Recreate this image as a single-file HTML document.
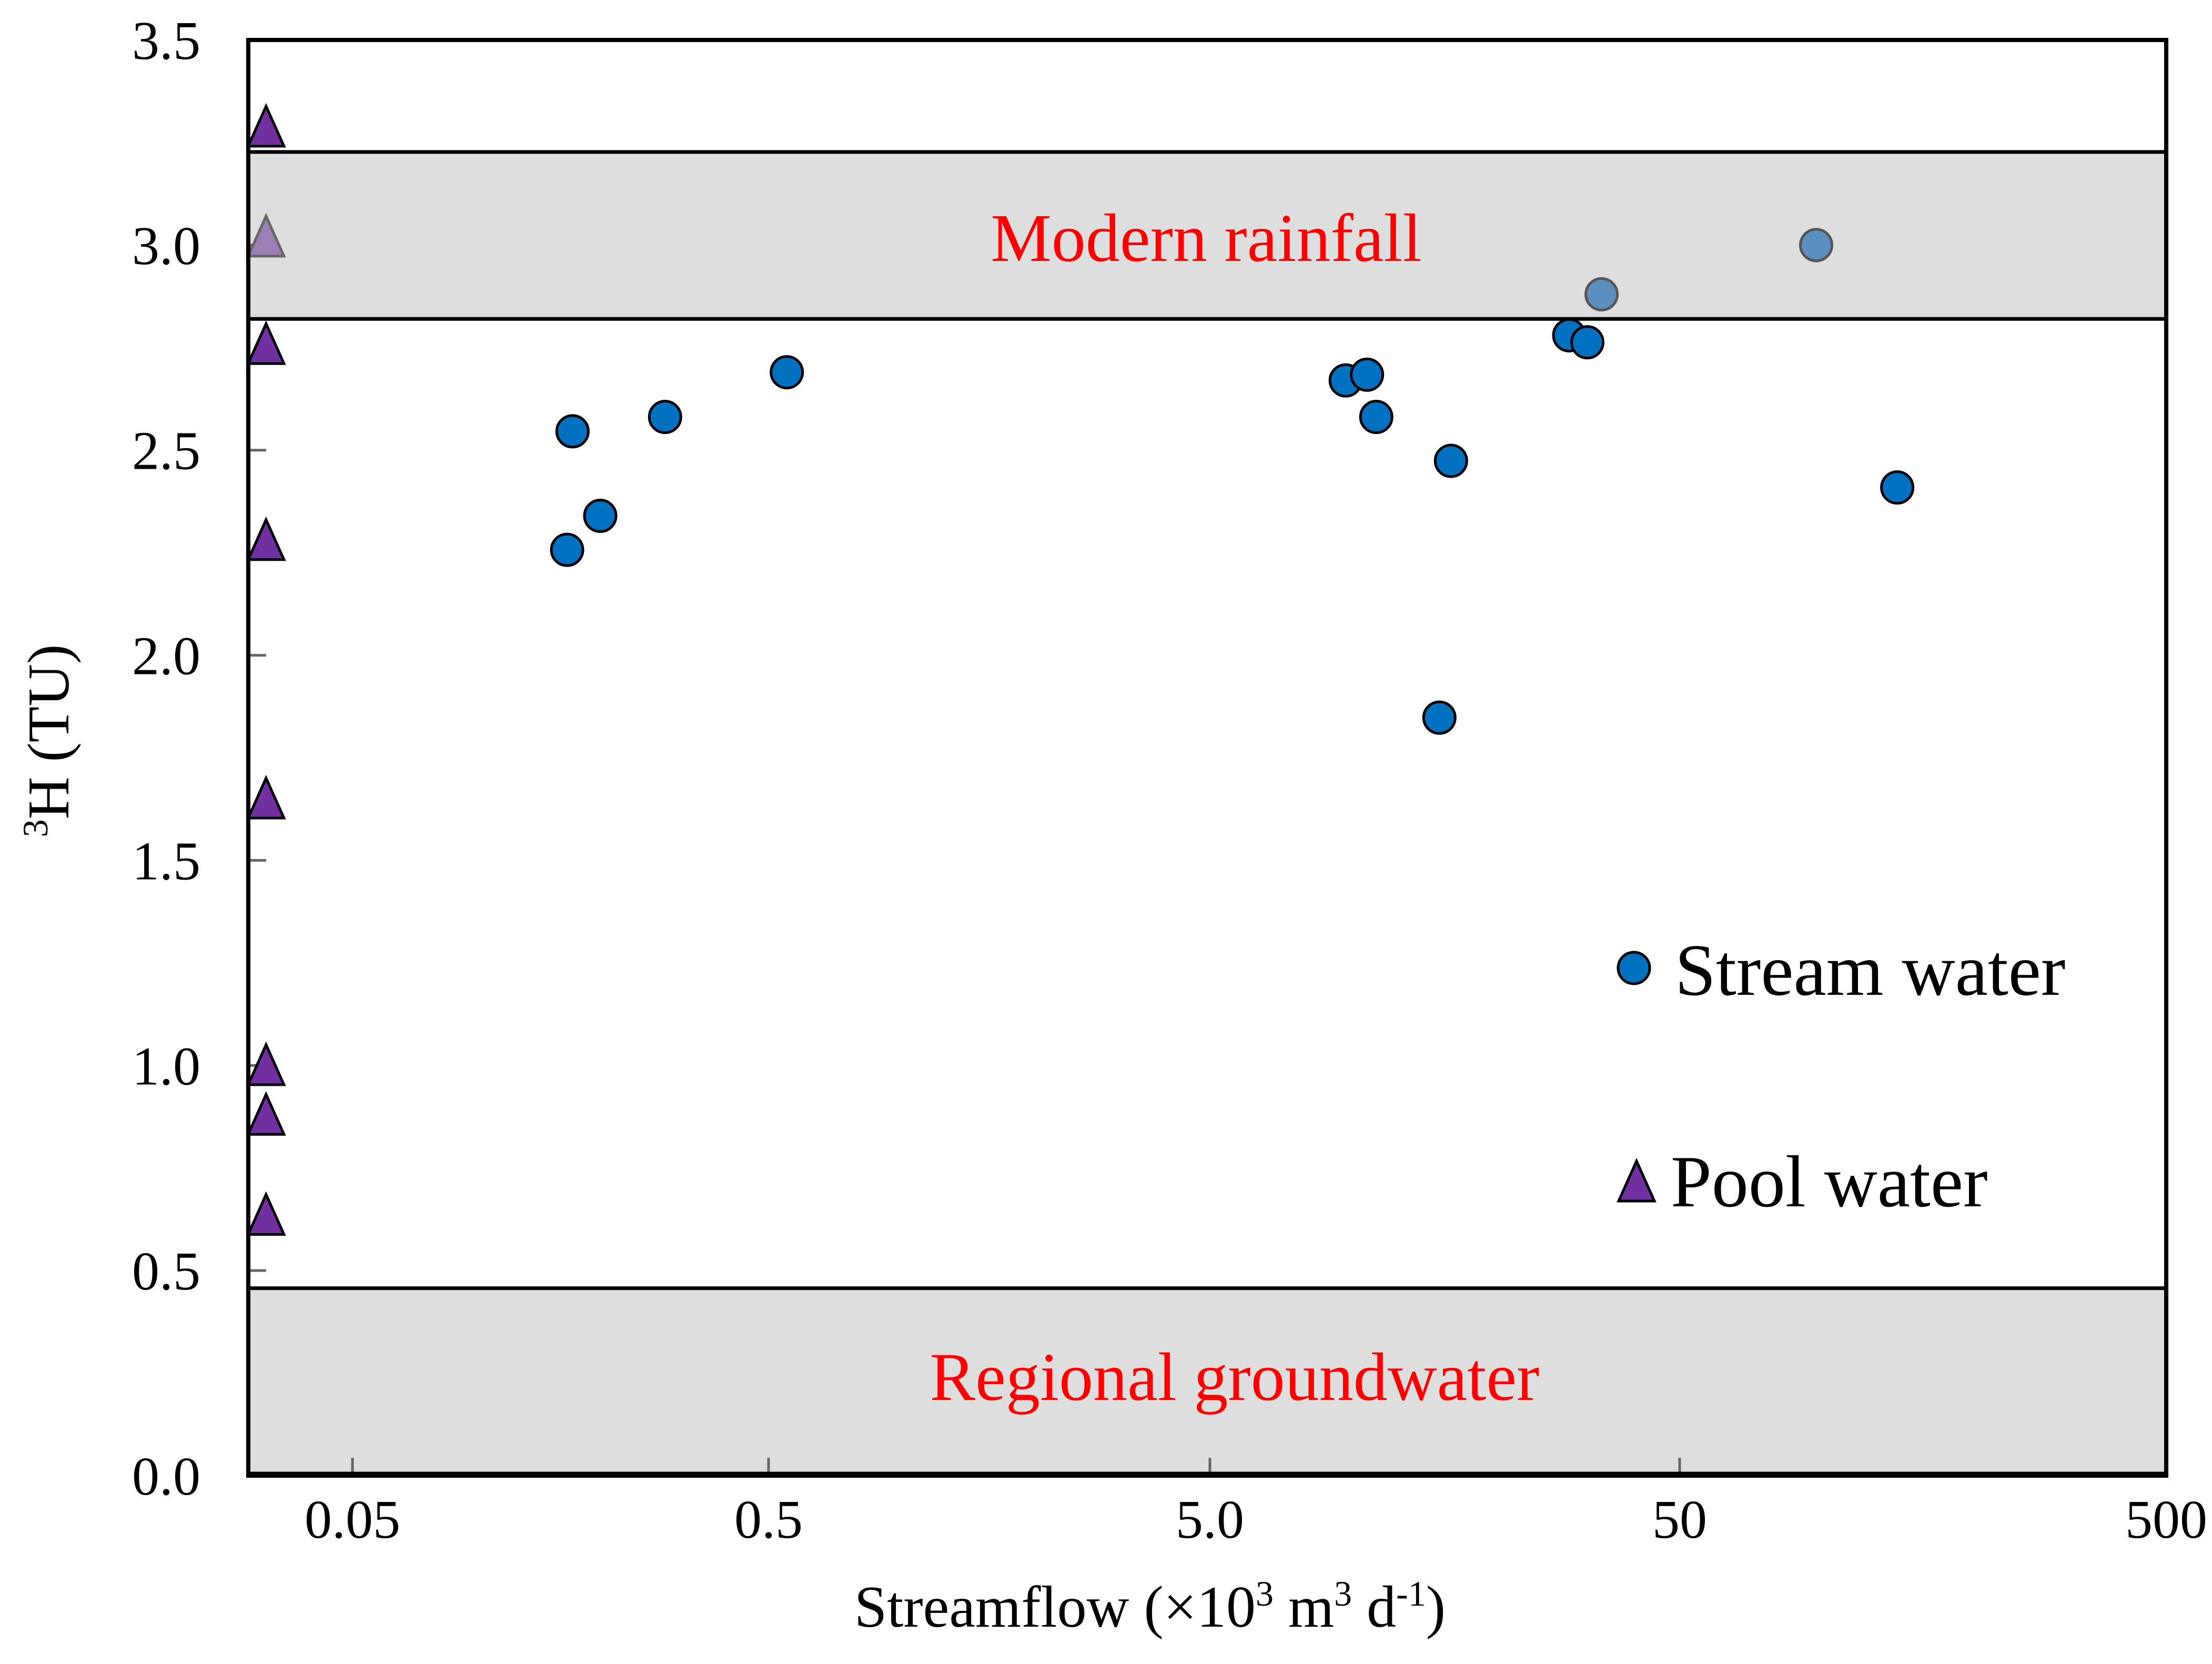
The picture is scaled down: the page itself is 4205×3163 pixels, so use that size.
<!DOCTYPE html>
<html><head><meta charset="utf-8"><style>html,body{margin:0;padding:0;background:#fff}svg{display:block}svg text{font-family:"Liberation Serif",serif}</style></head>
<body>
<svg id="chart" xmlns="http://www.w3.org/2000/svg" width="4205" height="3163" viewBox="0 0 4205 3163">
<rect x="0" y="0" width="4205" height="3163" fill="#fff"/>
<rect id="band1" fill="#dedede" stroke="#000" stroke-width="7"/>
<rect id="band2" fill="#dedede" stroke="#000" stroke-width="7"/>
<text x="2293" y="496" font-size="130" fill="#ff0000" text-anchor="middle">Modern rainfall</text>
<text x="2347" y="2661" font-size="130" fill="#ff0000" text-anchor="middle">Regional groundwater</text>
<g id="ticks"></g>
<g id="marks"></g>
<rect x="472" y="76" width="3646" height="2729" fill="none" stroke="#000" stroke-width="8"/>
<line x1="472" y1="2803" x2="4118" y2="2803" stroke="#000" stroke-width="11"/>
<g id="labels" font-size="104"></g>
<text x="2186" y="3092" font-size="112" text-anchor="middle">Streamflow (×10<tspan font-size="68" dy="-40">3</tspan><tspan dy="40"> m</tspan><tspan font-size="68" dy="-40">3</tspan><tspan dy="40"> d</tspan><tspan font-size="68" dy="-40">-1</tspan><tspan dy="40">)</tspan></text>
<text transform="translate(130,1408) rotate(-90)" font-size="112" text-anchor="middle"><tspan font-size="68" dy="-40">3</tspan><tspan dy="40">H (TU)</tspan></text>
<g>
<circle cx="3106" cy="1840" r="30" fill="#0070c0" stroke="#000" stroke-width="5"/>
<text x="3184" y="1891" font-size="140">Stream water</text>
<polygon points="3111,2207 3077,2283 3145,2283" fill="#7030a0" stroke="#000" stroke-width="5"/>
<text x="3176" y="2293" font-size="140">Pool water</text>
</g>
</svg>
<script>
const xTickVals=[0.05,0.5,5,50,500];
const xTickLabels=["0.05","0.5","5.0","50","500"];
const yTickVals=[0,0.5,1,1.5,2,2.5,3,3.5];
const yTickLabels=["0.0","0.5","1.0","1.5","2.0","2.5","3.0","3.5"];
const streamX=[0.164,0.169,0.197,0.282,0.55,9.73,10.8,11.3,16.3,15.4,29.1,31.8,34.1,95.4,140];
const streamY=[2.257,2.546,2.34,2.581,2.69,2.67,2.684,2.581,2.474,1.848,2.78,2.763,2.88,3.0,2.409];
const streamFaded=[0,0,0,0,0,0,0,0,0,0,0,0,1,1,0];
const poolX=[0.031,0.031,0.031,0.031,0.031,0.031,0.031,0.031];
const poolY=[3.286,3.018,2.756,2.278,1.648,0.998,0.877,0.633];
const poolFaded=[0,1,0,0,0,0,0,0];
const rainfallBand=[2.82,3.227];
const groundwaterBand=[0,0.457];
const L=472,R=4118,T=76,B=2805;
const xTickPx=[670,1461,2300,3193,4118];
function xs(v){const lv=Math.log10(v);let i=0;
 for(i=0;i<xTickVals.length-2;i++){if(lv<Math.log10(xTickVals[i+1]))break;}
 const a=Math.log10(xTickVals[i]),b=Math.log10(xTickVals[i+1]);
 return xTickPx[i]+(lv-a)/(b-a)*(xTickPx[i+1]-xTickPx[i]);}
function ys(v){return B-v/3.5*(B-T);}
const NS="http://www.w3.org/2000/svg";
function mk(tag,attrs,parent){const e=document.createElementNS(NS,tag);for(const k in attrs)e.setAttribute(k,attrs[k]);parent.appendChild(e);return e;}
const b1=document.getElementById('band1');
b1.setAttribute('x',L);b1.setAttribute('width',R-L);b1.setAttribute('y',ys(rainfallBand[1]));b1.setAttribute('height',ys(rainfallBand[0])-ys(rainfallBand[1]));
const b2=document.getElementById('band2');
b2.setAttribute('x',L);b2.setAttribute('width',R-L);b2.setAttribute('y',ys(groundwaterBand[1]));b2.setAttribute('height',B-ys(groundwaterBand[1]));
const tk=document.getElementById('ticks'),lb=document.getElementById('labels'),mg=document.getElementById('marks');
xTickVals.forEach((v,i)=>{const x=xs(v);
 const t=mk('line',{x1:x,x2:x,y1:B-34,y2:B,stroke:'#666','stroke-width':5},tk);
 
 
 const s=mk('text',{x:x,y:2923,'text-anchor':'middle'},lb);s.textContent=xTickLabels[i];
 
 });
yTickVals.forEach((v,i)=>{const y=ys(v);
 const t=mk('line',{x1:L,x2:L+34,y1:y,y2:y,stroke:'#666','stroke-width':5},tk);
 
 
 const s=mk('text',{x:381,y:y+36,'text-anchor':'end'},lb);s.textContent=yTickLabels[i];
 
 });
streamX.forEach((v,i)=>{const f=streamFaded[i];
 const c=mk('circle',{cx:xs(v),cy:ys(streamY[i]),r:30,fill:f?'#5a8fbf':'#0070c0',stroke:f?'#555':'#000','stroke-width':5},mg);
 
 });
poolX.forEach((v,i)=>{const f=poolFaded[i];const x=xs(v),y=ys(poolY[i]);
 const p=mk('polygon',{points:`${x},${y-41} ${x-34},${y+35} ${x+34},${y+35}`,fill:f?'#9b7fb5':'#7030a0',stroke:f?'#666':'#000','stroke-width':5},mg);
 
 });
</script>
</body></html>
